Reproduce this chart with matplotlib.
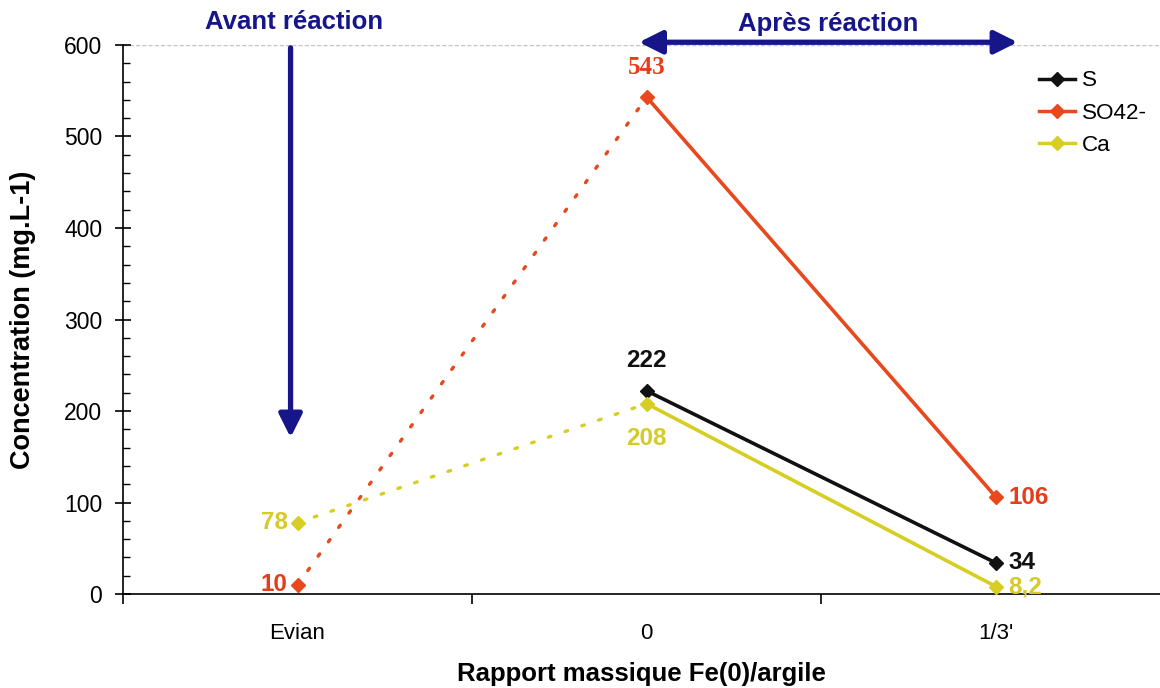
import matplotlib
matplotlib.use("Agg")
import matplotlib.pyplot as plt
import numpy as np

plt.rcParams['font.family'] = ['Liberation Sans', 'DejaVu Sans']

# Categories on the x axis
categories = ["Evian", "0", "1/3'"]

# Concentrations (mg.L-1); None = not measured
s_vals = [None, 222, 34]
so4_vals = [10, 543, 106]
ca_vals = [78, 208, 8.2]

s_labels = [None, "222", "34"]
so4_labels = ["10", "543", "106"]
ca_labels = ["78", "208", "8,2"]

C_S = "#111111"
C_SO4 = "#e8481c"
C_CA = "#d6ce22"
C_SO4_TXT = "#e63c1a"
C_CA_TXT = "#d4cb2a"
NAVY = "#16168a"

fig = plt.figure(figsize=(11.6, 6.88), dpi=100)
ax = fig.add_axes([0.106, 0.1366, 0.894, 0.798])

x = np.arange(len(categories))


def draw_series(vals, color, label):
    xs = [i for i, v in enumerate(vals) if v is not None]
    ys = [v for v in vals if v is not None]
    # dotted link between the reference water and the first reacted sample
    if vals[0] is not None:
        ax.plot(x[:2], vals[:2], color=color, lw=2.4, ls=(0, (0.8, 4.5)),
                dash_capstyle='round', zorder=2)
    ax.plot(x[1:], vals[1:], color=color, lw=2.6, zorder=3)
    ax.plot(xs, ys, ls='none', marker='D', ms=7.5, color=color, zorder=4)
    handle, = ax.plot([], [], color=color, lw=2.5, marker='D', ms=7, label=label)
    return handle


h_s = draw_series(s_vals, C_S, "S")
h_so4 = draw_series(so4_vals, C_SO4, "SO42-")
h_ca = draw_series(ca_vals, C_CA, "Ca")

FS_LAB = 17.5
lab_kw = dict(textcoords='offset points', fontsize=FS_LAB, fontweight='bold', va='center')
# SO42- labels
ax.annotate(so4_labels[0], (x[0], so4_vals[0]), xytext=(-7, 0), ha='right', color=C_SO4_TXT, **lab_kw)
ax.annotate(so4_labels[1], (x[1], so4_vals[1]), xytext=(0, 21), ha='center', color=C_SO4_TXT,
            textcoords='offset points', fontsize=18, fontweight='bold', va='center',
            family=['Liberation Serif', 'DejaVu Serif'])
ax.annotate(so4_labels[2], (x[2], so4_vals[2]), xytext=(9, 0), ha='left', color=C_SO4_TXT, **lab_kw)
# S labels
ax.annotate(s_labels[1], (x[1], s_vals[1]), xytext=(0, 22), ha='center', color=C_S, **lab_kw)
ax.annotate(s_labels[2], (x[2], s_vals[2]), xytext=(9, 0), ha='left', color=C_S, **lab_kw)
# Ca labels
ax.annotate(ca_labels[0], (x[0], ca_vals[0]), xytext=(-7, 0), ha='right', color=C_CA_TXT, **lab_kw)
ax.annotate(ca_labels[1], (x[1], ca_vals[1]), xytext=(0, -25), ha='center', color=C_CA_TXT, **lab_kw)
ax.annotate(ca_labels[2], (x[2], ca_vals[2]), xytext=(9, 0), ha='left', color=C_CA_TXT, **lab_kw)

# Axes styling
ax.set_xlim(-0.5, 2.47)
ax.set_ylim(0, 600)
for side in ['top', 'right']:
    ax.spines[side].set_visible(False)
ax.spines['left'].set_linewidth(1.2)
ax.spines['bottom'].set_linewidth(1.2)
ax.axhline(600, color='#c4c4c4', lw=1, ls=(0, (3, 1.5)), zorder=1)

ax.set_xticks(x)
ax.set_xticklabels(categories, fontsize=16)
ax.tick_params(axis='x', which='major', length=0, pad=21)
ax.set_xticks([-0.5, 0.5, 1.5], minor=True)
ax.tick_params(axis='x', which='minor', direction='out', length=7, width=1.2)

ax.set_yticks(np.arange(0, 601, 100))
ax.set_yticklabels([str(v) for v in range(0, 601, 100)], fontsize=16.5)
ax.set_yticks(np.arange(0, 601, 20), minor=True)
ax.tick_params(axis='y', which='major', direction='inout', length=12, width=1.2, pad=9)
ax.tick_params(axis='y', which='minor', direction='in', length=5, width=1)

ax.set_xlabel("Rapport massique Fe(0)/argile", fontsize=18.5, fontweight='bold', labelpad=13)
ax.set_ylabel("Concentration (mg.L-1)", fontsize=19.5, fontweight='bold', labelpad=20)

leg = ax.legend(handles=[h_s, h_so4, h_ca], loc='upper left', bbox_to_anchor=(0.875, 0.97),
                frameon=False, fontsize=16.2, handlelength=1.6, handletextpad=0.3,
                labelspacing=0.5, borderaxespad=0)

# Before / after reaction annotations
fig.text(0.2535, 0.968, "Avant réaction", color=NAVY, fontsize=18.5, fontweight='bold',
         ha='center', va='center')
fig.text(0.714, 0.965, "Après réaction", color=NAVY, fontsize=18.5, fontweight='bold',
         ha='center', va='center')
ax.annotate("", xy=(-0.02, 168), xytext=(-0.02, 600),
            arrowprops=dict(arrowstyle='-|>,head_length=1.4,head_width=0.7', color=NAVY, lw=3.8),
            annotation_clip=False)
ax.annotate("", xy=(0.97, 603), xytext=(2.07, 603),
            arrowprops=dict(arrowstyle='<|-|>,head_length=1.4,head_width=0.7', color=NAVY, lw=3.8),
            annotation_clip=False)

fig.savefig("out.png", dpi=100)
